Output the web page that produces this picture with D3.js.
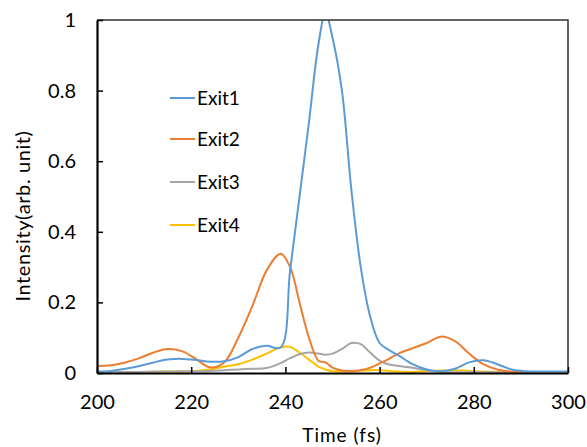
<!DOCTYPE html>
<html>
<head>
    <style>
        body { margin: 0; background-color: #ffffff; }
        text { font-family: Lato, "Noto Sans", sans-serif; fill: #000; }
    </style>
</head>
<body>
<script src="https://d3js.org/d3.v7.min.js"></script>
<script>
    // time points (fs)
    var times = [200, 203, 206, 209, 212, 215, 218, 221, 224, 227, 230, 233, 236, 239, 241, 243, 245, 247, 248.5,
        250, 252, 254, 256, 258, 260, 262, 264, 267, 270, 273, 276, 279, 282, 285, 288, 291, 294, 297, 300];

    var exit1 = [0.004, 0.006, 0.012, 0.02, 0.03, 0.038, 0.04, 0.037, 0.032, 0.033, 0.045, 0.068, 0.077, 0.072, 0.29, 0.5, 0.71, 0.93, 1.02,
        0.95, 0.8, 0.52, 0.3, 0.16, 0.085, 0.065, 0.05, 0.025, 0.01, 0.005, 0.012, 0.03, 0.036, 0.025, 0.01, 0.005, 0.004, 0.004, 0.004];
    var exit2 = [0.02, 0.022, 0.03, 0.042, 0.058, 0.068, 0.062, 0.04, 0.016, 0.03, 0.1, 0.19, 0.29, 0.338, 0.3, 0.2, 0.1, 0.035, 0.03,
        0.015, 0.007, 0.006, 0.008, 0.015, 0.027, 0.04, 0.055, 0.07, 0.085, 0.103, 0.09, 0.055, 0.025, 0.01, 0.004, 0.003, 0.003, 0.003, 0.003];
    var exit3 = [0.002, 0.002, 0.003, 0.003, 0.004, 0.004, 0.005, 0.005, 0.006, 0.008, 0.01, 0.012, 0.014, 0.028, 0.042, 0.053, 0.058, 0.055, 0.052,
        0.055, 0.068, 0.085, 0.082, 0.058, 0.035, 0.024, 0.02, 0.015, 0.008, 0.003, 0.002, 0.002, 0.002, 0.002, 0.002, 0.002, 0.002, 0.002, 0.002];
    var exit4 = [0.002, 0.002, 0.002, 0.003, 0.003, 0.004, 0.004, 0.006, 0.01, 0.018, 0.025, 0.038, 0.055, 0.073, 0.074, 0.058, 0.038, 0.018, 0.01,
        0.005, 0.004, 0.005, 0.007, 0.008, 0.008, 0.006, 0.004, 0.003, 0.005, 0.007, 0.008, 0.006, 0.004, 0.003, 0.002, 0.002, 0.002, 0.002, 0.002];

    var seriesNames = ["Exit1", "Exit2", "Exit3", "Exit4"];
    var seriesColors = ["#5B9BD5", "#ED7D31", "#A5A5A5", "#FFC000"];
    var xTicks = [200, 220, 240, 260, 280, 300];
    var yTicks = [0, 0.2, 0.4, 0.6, 0.8, 1];

    var W = 587, H = 447;
    var plotLeft = 97, plotRight = 568, plotTop = 20, plotBottom = 373;

    var svg = d3.select("body").append("svg")
        .attr("width", W)
        .attr("height", H);

    var x = d3.scaleLinear().domain([200, 300]).range([plotLeft, plotRight]);
    var y = d3.scaleLinear().domain([0, 1]).range([plotBottom, plotTop]);

    // clip so the peak is cut at the frame like in Excel
    svg.append("clipPath").attr("id", "plotclip")
        .append("rect")
        .attr("x", plotLeft).attr("y", plotTop)
        .attr("width", plotRight - plotLeft).attr("height", plotBottom - plotTop);

    var line = d3.line()
        .x(function (d) { return x(d[0]); })
        .y(function (d) { return y(d[1]); })
        .curve(d3.curveCatmullRom.alpha(0.5));

    var allSeries = [exit1, exit2, exit3, exit4];
    var g = svg.append("g").attr("clip-path", "url(#plotclip)");
    // draw in reverse so Exit1 is on top
    for (var i = allSeries.length - 1; i >= 0; i--) {
        var pts = times.map(function (t, j) { return [t, allSeries[i][j]]; });
        g.append("path")
            .datum(pts)
            .attr("fill", "none")
            .attr("stroke", seriesColors[i])
            .attr("stroke-width", 2)
            .attr("d", line);
    }

    // frame top + right
    svg.append("path")
        .attr("d", "M" + plotLeft + "," + plotTop + "H" + plotRight + "V" + plotBottom)
        .attr("fill", "none")
        .attr("stroke", "#333")
        .attr("stroke-width", 1.5);

    // X axis
    var xAxis = svg.append("g")
        .attr("transform", "translate(0," + plotBottom + ")")
        .call(d3.axisBottom(x).tickValues(xTicks).tickSizeInner(-6).tickSizeOuter(0).tickPadding(22));
    xAxis.select(".domain").attr("stroke", "#000").attr("stroke-width", 2.2);
    xAxis.selectAll(".tick line").attr("stroke", "#000").attr("stroke-width", 1.5);
    xAxis.selectAll("text").attr("font-size", "20px").attr("font-family", "Lato, sans-serif").attr("fill", "#000");

    // Y axis
    var yAxis = svg.append("g")
        .attr("transform", "translate(" + plotLeft + ",0)")
        .call(d3.axisLeft(y).tickValues(yTicks).tickFormat(d3.format("~g")).tickSizeInner(-6).tickSizeOuter(0).tickPadding(21));
    yAxis.select(".domain").attr("stroke", "#000").attr("stroke-width", 2.2);
    yAxis.selectAll(".tick line").attr("stroke", "#000").attr("stroke-width", 1.5);
    yAxis.selectAll("text").attr("font-size", "20px").attr("font-family", "Lato, sans-serif").attr("fill", "#000");

    // axis titles
    svg.append("text")
        .attr("x", 342)
        .attr("y", 442)
        .attr("text-anchor", "middle")
        .attr("font-size", "19px")
        .attr("letter-spacing", "1px")
        .text("Time (fs)");

    svg.append("text")
        .attr("transform", "translate(30,216) rotate(-90)")
        .attr("text-anchor", "middle")
        .attr("font-size", "20px")
        .attr("letter-spacing", "0.6px")
        .text("Intensity(arb. unit)");

    // legend
    var legendY = [98, 139, 182, 225];
    seriesNames.forEach(function (name, i) {
        svg.append("line")
            .attr("x1", 170).attr("x2", 195)
            .attr("y1", legendY[i]).attr("y2", legendY[i])
            .attr("stroke", seriesColors[i])
            .attr("stroke-width", 2);
        svg.append("text")
            .attr("x", 197)
            .attr("y", legendY[i])
            .attr("dy", "0.35em")
            .attr("font-size", "19px")
            .text(name);
    });
</script>
</body>
</html>
